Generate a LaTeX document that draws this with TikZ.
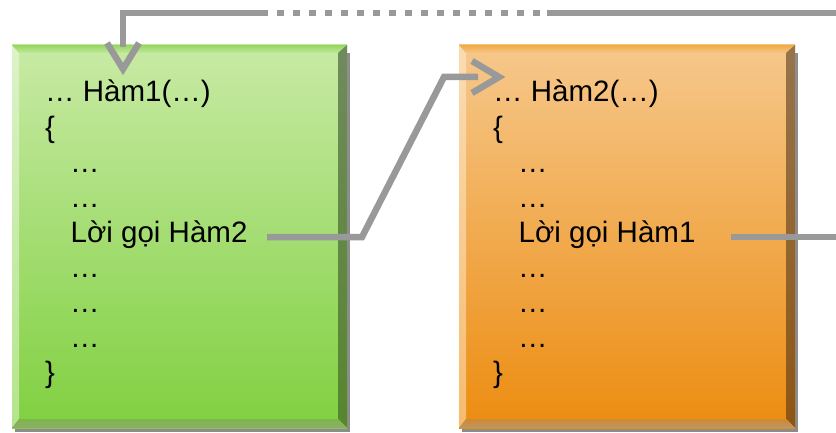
\documentclass[tikz,border=0pt]{standalone}
\usepackage{fontspec}
\setmainfont{Liberation Sans}
\usetikzlibrary{calc}

% green block colours
\definecolor{gface1}{RGB}{200,234,165}
\definecolor{gface2}{RGB}{128,208,64}
\definecolor{gleft1}{RGB}{220,243,200}
\definecolor{gleft2}{RGB}{180,228,140}
\definecolor{gtop1}{RGB}{150,214,98}
\definecolor{gtop2}{RGB}{192,232,155}
\definecolor{gright1}{RGB}{112,138,94}
\definecolor{gright2}{RGB}{86,134,46}
\definecolor{gbot1}{RGB}{122,184,72}
\definecolor{gbot2}{RGB}{146,170,112}
% orange block colours
\definecolor{oface1}{RGB}{246,200,140}
\definecolor{oface2}{RGB}{236,140,16}
\definecolor{oleft1}{RGB}{250,220,178}
\definecolor{oleft2}{RGB}{246,188,112}
\definecolor{otop1}{RGB}{240,170,70}
\definecolor{otop2}{RGB}{246,198,135}
\definecolor{oright1}{RGB}{150,116,76}
\definecolor{oright2}{RGB}{142,86,20}
\definecolor{obot1}{RGB}{206,138,50}
\definecolor{obot2}{RGB}{190,150,100}
% connectors and shadow
\definecolor{linegray}{RGB}{153,153,153}
\definecolor{boxshadow}{RGB}{140,140,140}

% bevelled block: #1 x1, #2 y1, #3 x2, #4 y2, #5 colour prefix
\newcommand\bevelblock[5]{%
  \fill[boxshadow] (#1+3,#2+8) rectangle (#3+3,#4+4);
  \shade[top color=#5face1, bottom color=#5face2] (#1,#2) rectangle (#3,#4);
  \shade[top color=#5left1, bottom color=#5left2]
    (#1,#2) -- (#1+7,#2+8) -- (#1+7,#4-9) -- (#1,#4) -- cycle;
  \shade[top color=#5top1, bottom color=#5top2]
    (#1,#2) -- (#3,#2) -- (#3-9,#2+8) -- (#1+7,#2+8) -- cycle;
  \shade[top color=#5right1, bottom color=#5right2]
    (#3,#2) -- (#3,#4) -- (#3-9,#4-9) -- (#3-9,#2+8) -- cycle;
  \shade[top color=#5bot1, bottom color=#5bot2]
    (#1,#4) -- (#1+7,#4-9) -- (#3-9,#4-9) -- (#3,#4) -- cycle;
}

\tikzset{
  codeline/.style={anchor=base west, inner sep=0pt, text=black,
    font=\fontsize{29.5}{35}\selectfont},
  conn/.style={draw=linegray, line width=6.5pt, line cap=butt, line join=miter},
  chevron/.style={conn, miter limit=10},
}

\begin{document}
\begin{tikzpicture}[x=1pt, y=-1pt]
  \useasboundingbox (0,0) rectangle (836,433);

  % the two function blocks
  \bevelblock{12}{45}{347}{428}{g}
  \bevelblock{459}{45}{795}{428}{o}

  % body of the first function
  \node[codeline] (h1) at (45,102)    {… Hàm1(…)};
  \node[codeline] (l1a) at (45,137.1) {\{};
  \node[codeline] (l1b) at (70,172.2) {…};
  \node[codeline] (l1c) at (70,207.3) {…};
  \node[codeline] (call2) at (70.5,242.4) {Lời gọi Hàm2};
  \node[codeline] (l1d) at (70,277.5) {…};
  \node[codeline] (l1e) at (70,312.6) {…};
  \node[codeline] (l1f) at (70,347.7) {…};
  \node[codeline] (l1g) at (45,382.8) {\}};

  % body of the second function
  \node[codeline] (h2) at (493,102)    {… Hàm2(…)};
  \node[codeline] (l2a) at (493,137.1) {\{};
  \node[codeline] (l2b) at (518,172.2) {…};
  \node[codeline] (l2c) at (518,207.3) {…};
  \node[codeline] (call1) at (518.5,242.4) {Lời gọi Hàm1};
  \node[codeline] (l2d) at (518,277.5) {…};
  \node[codeline] (l2e) at (518,312.6) {…};
  \node[codeline] (l2f) at (518,347.7) {…};
  \node[codeline] (l2g) at (493,382.8) {\}};

  % call from Hàm1 into Hàm2
  \coordinate (a1) at (267,237);
  \coordinate (a2) at (362,237);
  \coordinate (a3) at (444,77);
  \coordinate (a4) at (478,77);
  \draw[conn] (a1) -- (a2) -- (a3) -- (a4);
  \draw[chevron] (472,61) -- (499,77) -- (472,93);

  % call from Hàm2 back into Hàm1 (leaves the right edge, returns along the top)
  \coordinate (b1) at (731,237);
  \coordinate (b2) at (836,237);
  \draw[conn] (b1) -- (b2);
  \coordinate (t1) at (836,13);
  \coordinate (t2) at (547,13);
  \coordinate (t3) at (540,13);
  \coordinate (t4) at (277,13);
  \coordinate (t5) at (268,13);
  \coordinate (t6) at (123,13);
  \coordinate (t7) at (123,47);
  \draw[conn] (t1) -- (t2);
  \draw[conn, dash pattern=on 7pt off 9pt] (t4) -- (t3);
  \draw[conn] (t5) -- (t6) -- (t7);
  \draw[chevron] (107,43) -- (123,69) -- (139,43);
\end{tikzpicture}
\end{document}
